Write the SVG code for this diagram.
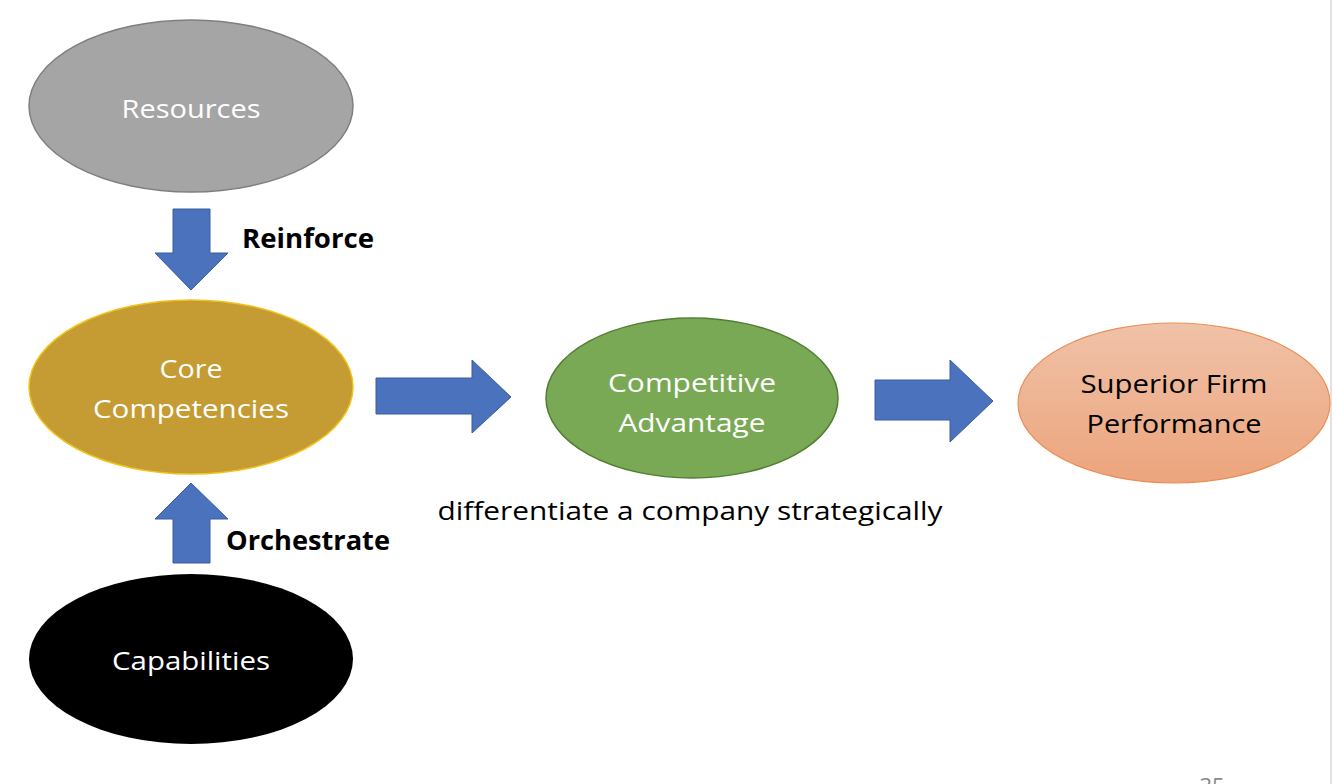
<svg xmlns="http://www.w3.org/2000/svg" width="1334" height="784" viewBox="0 0 1334 784">
<defs>
<linearGradient id="gOrange" x1="0" y1="0" x2="0" y2="1">
<stop offset="0" stop-color="#f0c2a8"/>
<stop offset="1" stop-color="#eca47c"/>
</linearGradient>
</defs>
<style>
.t{font-family:"Open Sans","Liberation Sans",sans-serif;font-size:26px;text-anchor:middle}
.w{fill:#ffffff}
.k{fill:#000000}
.b{font-weight:bold}
.arrow{fill:#4a72bd;stroke:#3a5d9c;stroke-width:1}
</style>
<rect x="0" y="0" width="1334" height="784" fill="#ffffff"/>
<line x1="1331" y1="0" x2="1331" y2="784" stroke="#d8d8d8" stroke-width="1.5"/>

<g id="resources">
<ellipse cx="191" cy="106" rx="162" ry="86" fill="#a5a5a5" stroke="#7f7f7f" stroke-width="1.5"/>
<text class="t w" x="191" y="118" textLength="139" lengthAdjust="spacingAndGlyphs">Resources</text>
</g>
<g id="core">
<ellipse cx="191" cy="387" rx="162" ry="87" fill="#c59b34" stroke="#f2c21a" stroke-width="1.5"/>
<text class="t w" x="191" y="378" textLength="63" lengthAdjust="spacingAndGlyphs">Core</text>
<text class="t w" x="191" y="418" textLength="196" lengthAdjust="spacingAndGlyphs">Competencies</text>
</g>
<g id="capabilities">
<ellipse cx="191" cy="659" rx="162" ry="85" fill="#000000"/>
<text class="t w" x="191" y="670" textLength="158" lengthAdjust="spacingAndGlyphs">Capabilities</text>
</g>
<g id="competitive">
<ellipse cx="692" cy="398" rx="146" ry="80" fill="#79a955" stroke="#527e33" stroke-width="1.5"/>
<text class="t w" x="692" y="392" textLength="168" lengthAdjust="spacingAndGlyphs">Competitive</text>
<text class="t w" x="692" y="432" textLength="147" lengthAdjust="spacingAndGlyphs">Advantage</text>
</g>
<g id="superior">
<ellipse cx="1174" cy="403" rx="156" ry="80" fill="url(#gOrange)" stroke="#e98f56" stroke-width="1.2"/>
<text class="t k" x="1174" y="393" textLength="187" lengthAdjust="spacingAndGlyphs">Superior Firm</text>
<text class="t k" x="1174" y="433" textLength="175" lengthAdjust="spacingAndGlyphs">Performance</text>
</g>

<g id="connectors">
<polygon class="arrow" points="173,209 210,209 210,253 228,253 191,290 155,253 173,253"/>
<polygon class="arrow" points="191,483 228,519 210,519 210,563 173,563 173,519 155,519"/>
<polygon class="arrow" points="376,378 472,378 472,360 511,397 472,433 472,414 376,414"/>
<polygon class="arrow" points="875,380 950,380 950,360 993,401 950,442 950,420 875,420"/>
<text class="t k b" x="308" y="248" textLength="132" lengthAdjust="spacingAndGlyphs">Reinforce</text>
<text class="t k b" x="308" y="550" textLength="164" lengthAdjust="spacingAndGlyphs">Orchestrate</text>
</g>

<text class="t k" x="690" y="520" textLength="505" lengthAdjust="spacingAndGlyphs">differentiate a company strategically</text>
<text x="1212" y="794" style="font-family:'Open Sans','Liberation Sans',sans-serif;font-size:22px;fill:#8a8a8a;text-anchor:middle">35</text>
</svg>
